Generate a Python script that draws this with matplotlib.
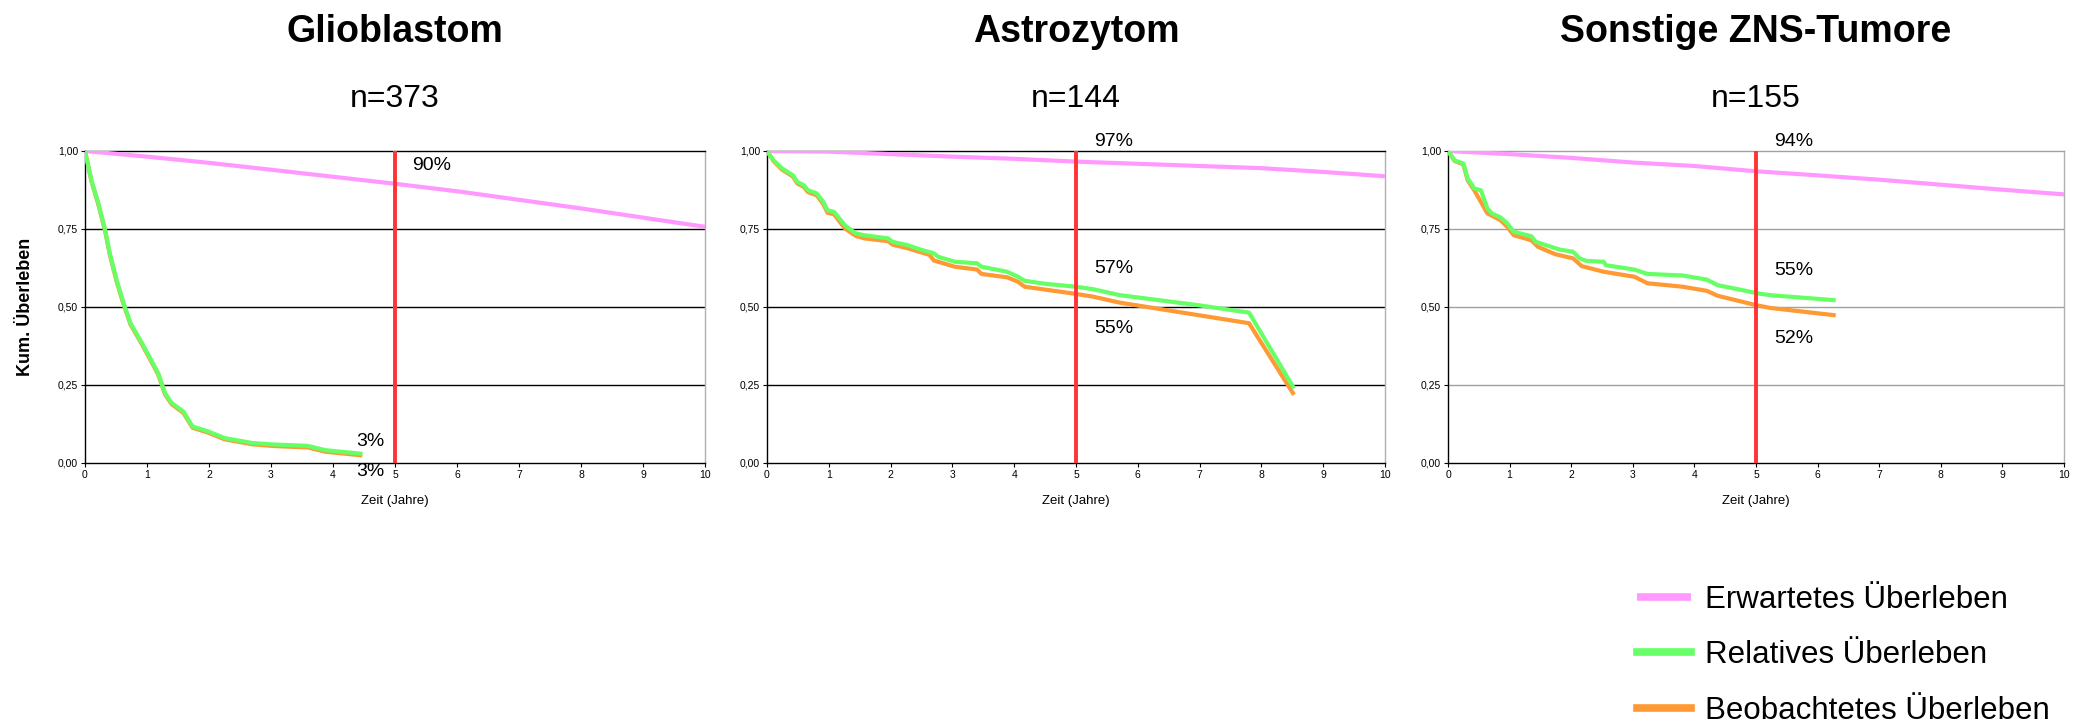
import matplotlib
matplotlib.use('Agg')
import matplotlib.pyplot as plt
from matplotlib.ticker import FuncFormatter

plt.rcParams['font.family'] = ['Liberation Sans', 'DejaVu Sans']

# colours
c_exp = '#ff99ff'
c_rel = '#66ff66'
c_obs = '#ff9933'
c_red = '#ff3333'

titles = ['Glioblastom', 'Astrozytom', 'Sonstige ZNS-Tumore']
n_labels = ['n=373', 'n=144', 'n=155']
legend_labels = ['Erwartetes Überleben', 'Relatives Überleben', 'Beobachtetes Überleben']

# --- Glioblastom ---
glio_exp_t = [0, 1, 2, 3, 5, 6, 8, 10]
glio_exp_s = [1.0, 0.982, 0.962, 0.94, 0.895, 0.871, 0.816, 0.757]
glio_rel_t = [0, 0.104, 0.215, 0.326, 0.40, 0.51, 0.623, 0.734, 0.92, 1.067, 1.18, 1.29,
              1.40, 1.586, 1.735, 1.99, 2.25, 2.70, 3.07, 3.59, 3.88, 4.44]
glio_rel_s = [1.0, 0.906, 0.832, 0.746, 0.672, 0.586, 0.512, 0.448, 0.384, 0.33, 0.288, 0.224,
              0.192, 0.165, 0.117, 0.101, 0.080, 0.064, 0.059, 0.055, 0.041, 0.030]
glio_obs_t = glio_rel_t
glio_obs_s = [1.0, 0.903, 0.829, 0.742, 0.668, 0.582, 0.508, 0.444, 0.380, 0.326, 0.284, 0.220,
              0.188, 0.161, 0.113, 0.097, 0.076, 0.060, 0.054, 0.050, 0.036, 0.025]

# --- Astrozytom ---
astro_exp_t = [0, 1, 2, 3, 4, 5, 6, 7, 8, 9, 10]
astro_exp_s = [1.0, 0.998, 0.99, 0.982, 0.975, 0.966, 0.959, 0.952, 0.945, 0.933, 0.919]
astro_rel_t = [0, 0.105, 0.245, 0.42, 0.49, 0.595, 0.665, 0.805, 0.91, 0.98, 1.085, 1.26,
               1.435, 1.575, 1.96, 2.03, 2.28, 2.485, 2.70, 2.77, 3.04, 3.40, 3.47, 3.887,
               4.06, 4.17, 4.516, 5.0, 5.28, 5.707, 6.97, 7.80, 8.51]
astro_rel_s = [1.0, 0.97, 0.944, 0.922, 0.901, 0.89, 0.874, 0.864, 0.837, 0.81, 0.805, 0.762,
               0.736, 0.73, 0.72, 0.709, 0.698, 0.684, 0.672, 0.661, 0.645, 0.64, 0.629, 0.613,
               0.597, 0.584, 0.574, 0.565, 0.557, 0.538, 0.506, 0.482, 0.245]
astro_obs_t = [0, 0.105, 0.245, 0.42, 0.49, 0.595, 0.665, 0.805, 0.91, 0.98, 1.085, 1.26,
               1.435, 1.575, 1.96, 2.03, 2.28, 2.63, 2.70, 3.04, 3.40, 3.47, 3.887, 4.06,
               4.17, 5.0, 5.28, 5.707, 7.80, 8.51]
astro_obs_s = [1.0, 0.968, 0.94, 0.918, 0.896, 0.885, 0.868, 0.858, 0.83, 0.802, 0.797, 0.752,
               0.728, 0.72, 0.711, 0.70, 0.688, 0.667, 0.649, 0.629, 0.62, 0.606, 0.595, 0.581,
               0.565, 0.542, 0.533, 0.514, 0.448, 0.224]

# --- Sonstige ZNS-Tumore ---
sonst_exp_t = [0, 1, 2, 3, 4, 5, 6, 7, 8, 9, 10]
sonst_exp_s = [1.0, 0.99, 0.978, 0.963, 0.952, 0.935, 0.922, 0.908, 0.892, 0.876, 0.861]
sonst_rel_t = [0, 0.107, 0.249, 0.32, 0.427, 0.534, 0.64, 0.712, 0.854, 0.961, 1.068, 1.352,
               1.423, 1.673, 1.815, 2.03, 2.135, 2.242, 2.527, 2.562, 3.025, 3.238, 3.808,
               4.199, 4.377, 4.733, 5.018, 5.23, 6.26]
sonst_rel_s = [1.0, 0.97, 0.96, 0.912, 0.88, 0.874, 0.816, 0.80, 0.787, 0.768, 0.741, 0.727,
               0.709, 0.693, 0.684, 0.677, 0.656, 0.648, 0.645, 0.634, 0.620, 0.606, 0.601,
               0.588, 0.570, 0.556, 0.544, 0.538, 0.522]
sonst_obs_t = [0, 0.107, 0.249, 0.32, 0.427, 0.64, 0.854, 0.961, 1.068, 1.352, 1.459, 1.744,
               2.03, 2.171, 2.527, 3.025, 3.238, 3.808, 4.199, 4.377, 5.0, 5.23, 6.26]
sonst_obs_s = [1.0, 0.968, 0.957, 0.906, 0.874, 0.80, 0.778, 0.757, 0.73, 0.714, 0.693, 0.669,
               0.656, 0.631, 0.613, 0.597, 0.576, 0.565, 0.552, 0.536, 0.506, 0.497, 0.474]

panels = [
    (glio_exp_t, glio_exp_s, glio_rel_t, glio_rel_s, glio_obs_t, glio_obs_s),
    (astro_exp_t, astro_exp_s, astro_rel_t, astro_rel_s, astro_obs_t, astro_obs_s),
    (sonst_exp_t, sonst_exp_s, sonst_rel_t, sonst_rel_s, sonst_obs_t, sonst_obs_s),
]

# percent labels per panel: (text, x, y)
pct_labels = [
    [('90%', 5.28, 0.955), ('3%', 4.37, 0.07), ('3%', 4.37, -0.027)],
    [('97%', 5.3, 1.03), ('57%', 5.3, 0.624), ('55%', 5.3, 0.43)],
    [('94%', 5.3, 1.03), ('55%', 5.3, 0.616), ('52%', 5.3, 0.40)],
]

grid_col = ['black', 'black', '#a0a0a0']
ax_left = [85, 767, 1448]
ax_right = [705, 1385, 2064]
W, H = 2090, 727
top_px, bot_px = 151, 463

fig = plt.figure(figsize=(20.9, 7.27), dpi=100)

for i in range(3):
    l = ax_left[i] / W
    w = (ax_right[i] - ax_left[i]) / W
    ax = fig.add_axes([l, (H - bot_px) / H, w, (bot_px - top_px) / H])
    et, es, rt, rs, ot, os_ = panels[i]

    for y in [0.25, 0.5, 0.75]:
        ax.axhline(y, color=grid_col[i], lw=1, zorder=1)

    h1, = ax.plot(et, es, color=c_exp, lw=3, zorder=3, solid_capstyle='butt')
    h3, = ax.plot(ot, os_, color=c_obs, lw=3, zorder=3)
    h2, = ax.plot(rt, rs, color=c_rel, lw=3, zorder=4)
    ax.plot([5, 5], [0, 1], color=c_red, lw=2.8, zorder=5)

    for txt, x, y in pct_labels[i]:
        ax.text(x, y, txt, fontsize=14, ha='left', va='center', clip_on=False, zorder=6)

    ax.set_xlim(0, 10)
    ax.set_ylim(0, 1)
    ax.set_xticks(range(11))
    ax.set_yticks([0, 0.25, 0.5, 0.75, 1.0])
    ax.yaxis.set_major_formatter(FuncFormatter(lambda v, p: ('%.2f' % v).replace('.', ',')))
    ax.tick_params(labelsize=7.5, length=3, width=0.8, pad=2)
    ax.set_xlabel('Zeit (Jahre)', fontsize=9.5, labelpad=11)

    ax.spines['left'].set_color('black')
    ax.spines['bottom'].set_color('black')
    ax.spines['top'].set_color(grid_col[i])
    ax.spines['right'].set_color('#b0b0b0')
    for s in ax.spines.values():
        s.set_linewidth(1)

    if i == 0:
        ax.set_ylabel('Kum. Überleben', fontsize=13, fontweight='bold', labelpad=17)

    cx = (ax_left[i] + ax_right[i]) / 2 / W
    fig.text(cx, 1 - 32 / H, titles[i], fontsize=27, fontweight='bold', ha='center', va='center')
    fig.text(cx, 1 - 99 / H, n_labels[i], fontsize=23, ha='center', va='center')

fig.legend([h1, h2, h3], legend_labels, loc='upper left', bbox_to_anchor=(1624 / W, 1 - 572 / H),
           frameon=False, fontsize=22.5, handlelength=1.75, handletextpad=0.45, labelspacing=0.82,
           borderaxespad=0)
for line in fig.legends[0].get_lines():
    line.set_linewidth(5.5)

fig.savefig('out.png', dpi=100)
